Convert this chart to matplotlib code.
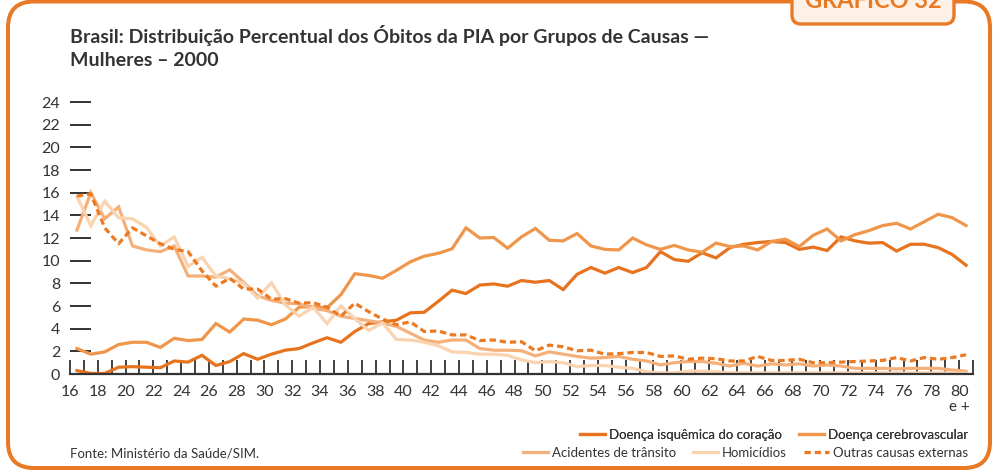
import matplotlib
matplotlib.use("Agg")
import matplotlib.pyplot as plt
from matplotlib.patches import FancyBboxPatch
from matplotlib.transforms import IdentityTransform
from matplotlib.ticker import MultipleLocator

# ---- data (percent of deaths, women 2000, ages 16..80+) --------------------
ages = list(range(16, 81))

isquemica = [0.3, 0.05, 0.05, 0.6, 0.65, 0.6, 0.55, 1.15, 1.05, 1.65,
             0.75, 1.1, 1.8, 1.3, 1.75, 2.1, 2.25, 2.75, 3.2, 2.8,
             3.75, 4.45, 4.6, 4.75, 5.4, 5.45, 6.4, 7.4, 7.1, 7.85,
             7.95, 7.75, 8.25, 8.1, 8.25, 7.45, 8.8, 9.4, 8.9, 9.4,
             8.95, 9.4, 10.8, 10.1, 9.95, 10.7, 10.25, 11.15, 11.45, 11.6,
             11.7, 11.6, 11.0, 11.2, 10.9, 12.1, 11.75, 11.55, 11.6, 10.85,
             11.45, 11.45, 11.15, 10.55, 9.6]

cerebrovascular = [2.25, 1.75, 1.95, 2.6, 2.8, 2.8, 2.35, 3.15, 2.95, 3.05,
                   4.45, 3.7, 4.85, 4.75, 4.35, 4.85, 5.9, 5.95, 5.85, 7.0,
                   8.85, 8.7, 8.45, 9.15, 9.9, 10.4, 10.65, 11.05, 12.9, 12.0,
                   12.05, 11.1, 12.1, 12.85, 11.8, 11.75, 12.4, 11.3, 11.0, 10.95,
                   12.0, 11.4, 11.0, 11.35, 10.95, 10.75, 11.55, 11.25, 11.3, 10.95,
                   11.7, 11.9, 11.25, 12.25, 12.8, 11.75, 12.3, 12.65, 13.1, 13.3,
                   12.8, 13.45, 14.1, 13.8, 13.1]

transito = [12.7, 16.0, 13.7, 14.75, 11.3, 10.95, 10.8, 11.3, 8.65, 8.65,
            8.55, 9.2, 8.1, 6.9, 6.5, 6.25, 6.2, 5.8, 5.6, 5.1,
            4.9, 4.7, 4.5, 4.2, 3.6, 3.0, 2.8, 3.0, 3.0, 2.25,
            2.1, 2.1, 2.05, 1.6, 1.95, 1.75, 1.55, 1.4, 1.45, 1.55,
            1.3, 1.15, 0.8, 1.0, 1.1, 1.1, 0.95, 0.7, 0.95, 0.7,
            0.9, 0.8, 0.9, 0.7, 0.8, 0.7, 0.5, 0.5, 0.5, 0.45,
            0.5, 0.5, 0.5, 0.35, 0.25]

homicidios = [15.65, 13.1, 15.25, 13.8, 13.7, 12.95, 11.3, 12.1, 9.5, 10.3,
              8.65, 8.4, 8.0, 6.7, 8.05, 6.1, 5.1, 5.9, 4.45, 6.0,
              4.9, 3.85, 4.5, 3.05, 3.0, 2.8, 2.5, 1.95, 1.9, 1.75,
              1.75, 1.65, 1.25, 1.0, 1.1, 1.0, 0.65, 0.75, 0.75, 0.6,
              0.5, 0.2, 0.1, 0.1, 0.25, 0.25, 0.2, 0.1, 0.1, 0.1,
              0.1, 0.1, 0.1, 0.1, 0.1, 0.1, 0.1, 0.1, 0.1, 0.1,
              0.1, 0.1, 0.1, 0.1, 0.05]

outras = [15.7, 15.9, 12.9, 11.5, 12.9, 12.2, 11.5, 11.0, 10.8, 9.1,
          7.75, 8.45, 7.5, 7.5, 6.6, 6.65, 6.25, 6.3, 5.9, 5.1,
          6.25, 5.5, 4.85, 4.35, 4.6, 3.75, 3.8, 3.45, 3.45, 2.95,
          3.0, 2.8, 2.85, 2.05, 2.55, 2.4, 2.05, 2.1, 1.75, 1.8,
          1.9, 1.9, 1.55, 1.6, 1.3, 1.4, 1.35, 1.15, 1.15, 1.55,
          1.2, 1.2, 1.3, 1.0, 1.0, 1.05, 1.1, 1.15, 1.2, 1.45,
          1.15, 1.45, 1.3, 1.45, 1.7]

TITLE_1 = "Brasil: Distribuição Percentual dos Óbitos da PIA por Grupos de Causas —"
TITLE_2 = "Mulheres – 2000"
SOURCE = "Fonte: Ministério da Saúde/SIM."

ORANGE = "#E87A25"
DARK = "#333333"
FONT = ["Lato", "DejaVu Sans"]

plt.rcParams["font.family"] = FONT

W, H = 997, 471
fig = plt.figure(figsize=(W / 100, H / 100), dpi=100)


def px(x, y):
    """image pixel (top-left origin) -> display coords"""
    return x, H - y


# ---- frame and tab ----------------------------------------------------------
x0, y0 = px(8, 468)
frame = FancyBboxPatch((x0, y0), 990 - 8, 468 - 1.5,
                       boxstyle="round,pad=0,rounding_size=26",
                       transform=IdentityTransform(), fill=False,
                       edgecolor=ORANGE, linewidth=2.9, zorder=0)
fig.patches.append(frame)

tx, ty = px(792, 24)
tab = FancyBboxPatch((tx, ty), 954 - 792, 60,
                     boxstyle="round,pad=0,rounding_size=9",
                     transform=IdentityTransform(), facecolor="#FDF0E6",
                     edgecolor=ORANGE, linewidth=2.4, zorder=1)
fig.patches.append(tab)
fig.text(873 / W, (H - 8) / H, "GRÁFICO 32", ha="center", va="baseline",
         fontsize=17, fontweight="bold", color=ORANGE, zorder=2)

# ---- title / source ---------------------------------------------------------
fig.text(70 / W, (H - 35) / H, TITLE_1, ha="left", va="center",
         fontsize=14, fontweight="bold", color=DARK)
fig.text(70 / W, (H - 61) / H, TITLE_2, ha="left", va="center",
         fontsize=14, fontweight="bold", color=DARK)
fig.text(70 / W, (H - 453) / H, SOURCE, ha="left", va="center",
         fontsize=9.5, color=DARK)

# ---- axes -------------------------------------------------------------------
ax = fig.add_axes([70 / W, 97 / H, (973 - 70) / W, 24.3 * 11.33 / H])
xs = [a + 0.5 for a in ages]

series = [
    ("Doença isquêmica do coração", isquemica, "#E8731E", "-"),
    ("Doença cerebrovascular", cerebrovascular, "#F0964B", "-"),
    ("Acidentes de trânsito", transito, "#F5B07A", "-"),
    ("Homicídios", homicidios, "#FAD3B0", "-"),
    ("Outras causas externas", outras, "#EC7A22", "--"),
]
handles = []
for name, vals, col, ls in series:
    line, = ax.plot(xs, vals, color=col, lw=2.3, ls=ls, label=name,
                    solid_joinstyle="miter")
    if ls == "--":
        line.set_dashes((2.0, 1.2))
    handles.append(line)

ax.set_xlim(16, 81)
ax.set_ylim(0, 24.3)
for s in ("top", "right", "left"):
    ax.spines[s].set_visible(False)
ax.spines["bottom"].set_linewidth(1.6)
ax.spines["bottom"].set_color(DARK)

ax.set_yticks(range(0, 25, 2))
ax.tick_params(axis="y", direction="in", length=15, width=1.4, color=DARK,
               labelsize=11.5, labelcolor=DARK, pad=7)
ax.set_xticks(range(16, 81, 2))
ax.xaxis.set_minor_locator(MultipleLocator(1))
ax.tick_params(axis="x", which="both", direction="in", length=10, width=1.3,
               color=DARK, labelsize=11.5, labelcolor=DARK, pad=8)
ax.annotate("e +", xy=(80, 0), xycoords=("data", "axes fraction"),
            xytext=(0, -33), textcoords="offset pixels",
            ha="center", va="center", fontsize=11, color=DARK)

# ---- legend (two rows, right aligned) ---------------------------------------
leg1 = fig.legend(handles[:2], [h.get_label() for h in handles[:2]],
                  loc="center right", bbox_to_anchor=(975 / W, 36 / H),
                  ncol=2, frameon=False, fontsize=9.5, handlelength=1.9,
                  handletextpad=0.3, columnspacing=1.3, borderpad=0,
                  labelcolor=DARK)
fig.add_artist(leg1)
fig.legend(handles[2:], [h.get_label() for h in handles[2:]],
           loc="center right", bbox_to_anchor=(975 / W, 18 / H),
           ncol=3, frameon=False, fontsize=9.5, handlelength=1.9,
           handletextpad=0.3, columnspacing=1.3, borderpad=0,
           labelcolor=DARK)

fig.savefig("out.png", dpi=100)
